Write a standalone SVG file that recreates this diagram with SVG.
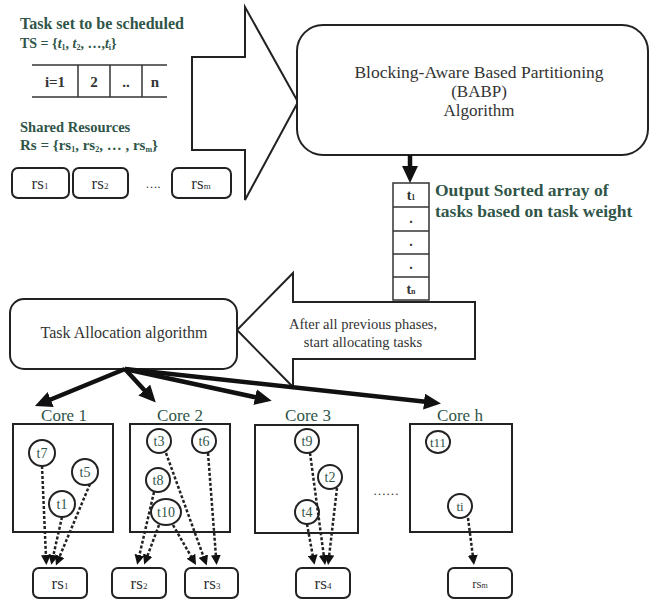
<svg xmlns="http://www.w3.org/2000/svg" width="650" height="601" viewBox="0 0 650 601">
<style>
  .t{font-family:"Liberation Serif","Times New Roman",serif;fill:#333}
  .g{font-family:"Liberation Serif","Times New Roman",serif;fill:#2f5548}
  .box{fill:#fff;stroke:#222;stroke-width:2}
  .thin{fill:none;stroke:#333;stroke-width:1.5}
  .circ{fill:#fff;stroke:#222;stroke-width:2}
  .thick{stroke:#111;stroke-width:4.5;fill:none}
  .dash{stroke:#222;stroke-width:2.5;stroke-dasharray:3 2;fill:none}
</style>
<defs>
  <marker id="big" markerUnits="userSpaceOnUse" markerWidth="20" markerHeight="16" refX="4" refY="8" orient="auto">
    <path d="M0,0 L17,8 L0,16 z" fill="#111"/>
  </marker>
  <marker id="sm" markerUnits="userSpaceOnUse" markerWidth="12" markerHeight="10" refX="2" refY="5" orient="auto">
    <path d="M0,0 L10,5 L0,10 z" fill="#111"/>
  </marker>
</defs>
<rect width="650" height="601" fill="#fff"/>

<g id="taskset">
  <text class="g" x="20" y="29" font-size="16" font-weight="bold">Task set to be scheduled</text>
  <text class="g" x="20" y="48" font-size="14" font-weight="bold">TS = {<tspan font-style="italic">t</tspan><tspan font-size="8" dy="2">1</tspan><tspan dy="-2">, </tspan><tspan font-style="italic">t</tspan><tspan font-size="8" dy="2">2</tspan><tspan dy="-2">, …,</tspan><tspan font-style="italic">t</tspan><tspan font-size="8" dy="2">i</tspan><tspan dy="-2">}</tspan></text>
  <line class="thin" x1="32" y1="65" x2="167" y2="65"/>
  <line class="thin" x1="32" y1="97" x2="167" y2="97"/>
  <line class="thin" x1="78" y1="65" x2="78" y2="97"/>
  <line class="thin" x1="110" y1="65" x2="110" y2="97"/>
  <line class="thin" x1="142" y1="65" x2="142" y2="97"/>
  <text class="t" x="55" y="87" font-size="15" text-anchor="middle" font-weight="bold">i=1</text>
  <text class="t" x="94" y="87" font-size="15" text-anchor="middle" font-weight="bold">2</text>
  <text class="t" x="126" y="87" font-size="15" text-anchor="middle" font-weight="bold">..</text>
  <text class="t" x="155" y="87" font-size="15" text-anchor="middle" font-weight="bold">n</text>
</g>

<g id="resources">
  <text class="g" x="20" y="132" font-size="14.5" font-weight="bold">Shared Resources</text>
  <text class="g" x="20" y="150" font-size="15" font-weight="bold">Rs = {rs<tspan font-size="8" dy="2">1</tspan><tspan dy="-2">, rs</tspan><tspan font-size="8" dy="2">2</tspan><tspan dy="-2">, … , rs</tspan><tspan font-size="8" dy="2">m</tspan><tspan dy="-2">}</tspan></text>
  <rect class="box" x="12" y="168" width="57" height="30" rx="6"/>
  <text class="t" x="40" y="189" font-size="17" text-anchor="middle">rs<tspan font-size="9">1</tspan></text>
  <rect class="box" x="73" y="168" width="55" height="30" rx="6"/>
  <text class="t" x="100" y="189" font-size="17" text-anchor="middle">rs<tspan font-size="9">2</tspan></text>
  <text class="t" x="153" y="188" font-size="12" text-anchor="middle">….</text>
  <rect class="box" x="172" y="168" width="59" height="30" rx="6"/>
  <text class="t" x="201" y="189" font-size="17" text-anchor="middle">rs<tspan font-size="9">m</tspan></text>
</g>

<g id="input-arrow">
  <polygon class="box" points="192,57 245,57 245,7 298,102 245,200 245,150 192,150"/>
</g>

<g id="babp">
  <rect class="box" x="297" y="25" width="351" height="130" rx="26"/>
  <text class="t" x="479" y="78" font-size="17.5" text-anchor="middle">Blocking-Aware Based Partitioning</text>
  <text class="t" x="479" y="97" font-size="17" text-anchor="middle">(BABP)</text>
  <text class="t" x="479" y="116" font-size="17" text-anchor="middle">Algorithm</text>
</g>

<g id="sorted-array">
  <rect class="thin" x="393" y="183" width="36" height="117" fill="#fff"/>
  <line class="thin" x1="393" y1="207" x2="429" y2="207"/>
  <line class="thin" x1="393" y1="231" x2="429" y2="231"/>
  <line class="thin" x1="393" y1="254" x2="429" y2="254"/>
  <line class="thin" x1="393" y1="277" x2="429" y2="277"/>
  <text class="t" x="411" y="200" font-size="14" font-weight="bold" text-anchor="middle">t<tspan font-size="8">1</tspan></text>
  <text class="t" x="411" y="223" font-size="14" font-weight="bold" text-anchor="middle">.</text>
  <text class="t" x="411" y="246" font-size="14" font-weight="bold" text-anchor="middle">.</text>
  <text class="t" x="411" y="269" font-size="14" font-weight="bold" text-anchor="middle">.</text>
  <text class="t" x="411" y="294" font-size="14" font-weight="bold" text-anchor="middle">t<tspan font-size="8">n</tspan></text>
  <text class="g" x="435" y="196" font-size="17.5" font-weight="bold">Output Sorted array of</text>
  <text class="g" x="435" y="217" font-size="17.5" font-weight="bold">tasks based on task weight</text>
</g>

<g id="phase-arrow">
  <polygon class="box" points="475,302 293,302 293,273 237,330 293,387 293,359 475,359"/>
  <text class="t" x="363" y="329" font-size="14.5" text-anchor="middle">After all previous phases,</text>
  <text class="t" x="363" y="347" font-size="14.5" text-anchor="middle">start allocating tasks</text>
</g>

<g id="task-allocation">
  <rect class="box" x="10" y="299" width="227" height="70" rx="14"/>
  <text class="t" x="124" y="338" font-size="16" text-anchor="middle">Task Allocation algorithm</text>
</g>

<g id="core1">
  <text class="g" x="64" y="421" font-size="17" text-anchor="middle">Core 1</text>
  <rect class="box" x="13" y="424" width="100" height="108"/>
  <circle class="circ" cx="42" cy="453" r="13"/><text class="g" x="42" y="458" font-size="14" text-anchor="middle">t7</text>
  <circle class="circ" cx="85" cy="472" r="13"/><text class="g" x="85" y="477" font-size="14" text-anchor="middle">t5</text>
  <circle class="circ" cx="62" cy="504" r="13"/><text class="g" x="62" y="509" font-size="14" text-anchor="middle">t1</text>
</g>

<g id="core2">
  <text class="g" x="180" y="421" font-size="17" text-anchor="middle">Core 2</text>
  <rect class="box" x="130" y="424" width="100" height="108"/>
  <circle class="circ" cx="159" cy="441" r="12"/><text class="g" x="159" y="446" font-size="14" text-anchor="middle">t3</text>
  <circle class="circ" cx="204" cy="441" r="12"/><text class="g" x="204" y="446" font-size="14" text-anchor="middle">t6</text>
  <circle class="circ" cx="158" cy="480" r="12"/><text class="g" x="158" y="485" font-size="14" text-anchor="middle">t8</text>
  <ellipse class="circ" cx="166" cy="512" rx="15" ry="13"/><text class="g" x="166" y="517" font-size="14" text-anchor="middle">t10</text>
</g>

<g id="core3">
  <text class="g" x="308" y="421" font-size="17" text-anchor="middle">Core 3</text>
  <rect class="box" x="255" y="425" width="103" height="108"/>
  <circle class="circ" cx="307" cy="441" r="12"/><text class="g" x="307" y="446" font-size="14" text-anchor="middle">t9</text>
  <circle class="circ" cx="330" cy="477" r="12"/><text class="g" x="330" y="482" font-size="14" text-anchor="middle">t2</text>
  <circle class="circ" cx="307" cy="512" r="12"/><text class="g" x="307" y="517" font-size="14" text-anchor="middle">t4</text>
</g>

<text class="t" x="386" y="495" font-size="13" text-anchor="middle">……</text>

<g id="coreh">
  <text class="g" x="460" y="421" font-size="17" text-anchor="middle">Core h</text>
  <rect class="box" x="410" y="424" width="102" height="108"/>
  <ellipse class="circ" cx="438" cy="442" rx="12" ry="11"/><text class="g" x="438" y="447" font-size="13" text-anchor="middle">t11</text>
  <circle class="circ" cx="460" cy="506" r="12"/><text class="g" x="460" y="511" font-size="13" text-anchor="middle">ti</text>
</g>

<g id="rs-bottom">
  <rect class="box" x="33" y="568" width="54" height="30" rx="6"/>
  <text class="t" x="60" y="589" font-size="17" text-anchor="middle">rs<tspan font-size="9">1</tspan></text>
  <rect class="box" x="112" y="568" width="54" height="30" rx="6"/>
  <text class="t" x="139" y="589" font-size="17" text-anchor="middle">rs<tspan font-size="9">2</tspan></text>
  <rect class="box" x="185" y="568" width="53" height="30" rx="6"/>
  <text class="t" x="212" y="589" font-size="17" text-anchor="middle">rs<tspan font-size="9">3</tspan></text>
  <rect class="box" x="296" y="568" width="54" height="30" rx="6"/>
  <text class="t" x="323" y="589" font-size="17" text-anchor="middle">rs<tspan font-size="9">4</tspan></text>
  <rect class="box" x="448" y="568" width="64" height="30" rx="6"/>
  <text class="t" x="480" y="588" font-size="13" text-anchor="middle">rs<tspan font-size="8">m</tspan></text>
</g>

<g id="connectors">
  <line class="thick" x1="410" y1="155" x2="410" y2="170" stroke-width="5" marker-end="url(#big)"/>
  <line class="thick" x1="125" y1="369" x2="47" y2="401" marker-end="url(#big)"/>
  <line class="thick" x1="125" y1="369" x2="147" y2="393" marker-end="url(#big)"/>
  <line class="thick" x1="125" y1="369" x2="259" y2="398" marker-end="url(#big)"/>
  <line class="thick" x1="125" y1="369" x2="428" y2="402" marker-end="url(#big)"/>

  <line class="dash" x1="42" y1="466" x2="46" y2="557" marker-end="url(#sm)"/>
  <line class="dash" x1="62" y1="517" x2="53" y2="557" marker-end="url(#sm)"/>
  <line class="dash" x1="90" y1="484" x2="59" y2="558" marker-end="url(#sm)"/>

  <line class="dash" x1="154" y1="492" x2="139" y2="557" marker-end="url(#sm)"/>
  <line class="dash" x1="159" y1="525" x2="147" y2="557" marker-end="url(#sm)"/>
  <line class="dash" x1="173" y1="525" x2="192" y2="558" marker-end="url(#sm)"/>
  <line class="dash" x1="166" y1="453" x2="204" y2="558" marker-end="url(#sm)"/>
  <line class="dash" x1="208" y1="453" x2="216" y2="557" marker-end="url(#sm)"/>

  <line class="dash" x1="307" y1="524" x2="313" y2="557" marker-end="url(#sm)"/>
  <line class="dash" x1="310" y1="453" x2="324" y2="557" marker-end="url(#sm)"/>
  <line class="dash" x1="337" y1="488" x2="329" y2="557" marker-end="url(#sm)"/>

  <line class="dash" x1="468" y1="518" x2="473" y2="557" marker-end="url(#sm)"/>
</g>
</svg>
